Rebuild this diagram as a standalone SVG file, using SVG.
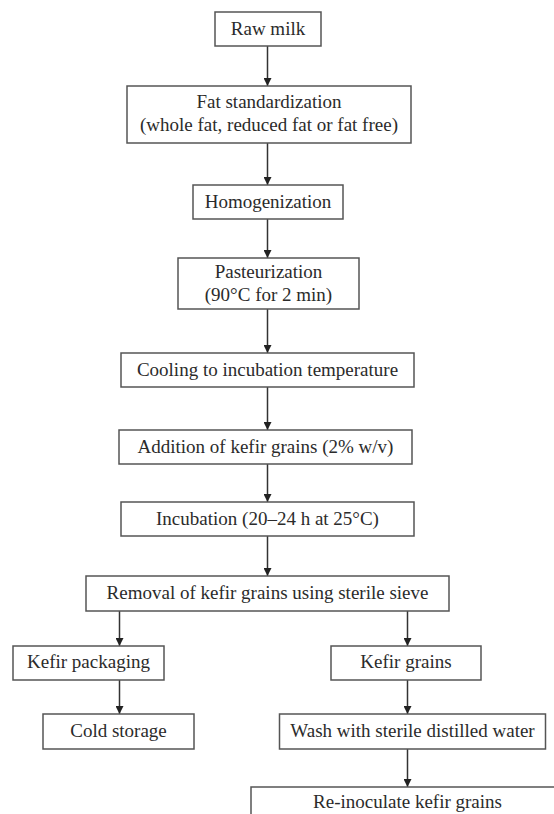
<svg xmlns="http://www.w3.org/2000/svg" width="554" height="814" viewBox="0 0 554 814">
<defs>
<marker id="ah" viewBox="0 0 10 10" refX="10" refY="5" markerWidth="8" markerHeight="8" markerUnits="userSpaceOnUse" orient="auto">
<path d="M0,0 L10,5 L0,10 z" fill="#222"/>
</marker>
<style>
.box{fill:#fff;stroke:#555;stroke-width:1.5}
.t{font-family:"Liberation Serif","Times New Roman",serif;font-size:19px;fill:#2b2b2b;text-anchor:middle}
.c{stroke:#333;stroke-width:1.5;fill:none;marker-end:url(#ah)}
</style>
</defs>
<rect width="554" height="814" fill="#fff"/>
<g id="connectors">
<line class="c" x1="267.5" y1="46" x2="267.5" y2="86"/>
<line class="c" x1="267.5" y1="143" x2="267.5" y2="185"/>
<line class="c" x1="267.5" y1="219" x2="267.5" y2="258"/>
<line class="c" x1="267.5" y1="309" x2="267.5" y2="353"/>
<line class="c" x1="267.5" y1="387" x2="267.5" y2="430"/>
<line class="c" x1="267.5" y1="464" x2="267.5" y2="502"/>
<line class="c" x1="267.5" y1="536" x2="267.5" y2="576"/>
<line class="c" x1="119.5" y1="611" x2="119.5" y2="646"/>
<line class="c" x1="407.5" y1="611" x2="407.5" y2="646"/>
<line class="c" x1="119.5" y1="680" x2="119.5" y2="714"/>
<line class="c" x1="407.5" y1="680" x2="407.5" y2="714"/>
<line class="c" x1="407.5" y1="749" x2="407.5" y2="787"/>
</g>
<g id="raw-milk"><rect class="box" x="215" y="12" width="106" height="34"/><text class="t" x="268" y="35">Raw milk</text></g>
<g id="fat-standardization"><rect class="box" x="127" y="86" width="284" height="57"/><text class="t" x="269" y="108">Fat standardization</text><text class="t" x="269" y="131">(whole fat, reduced fat or fat free)</text></g>
<g id="homogenization"><rect class="box" x="193" y="185" width="150" height="34"/><text class="t" x="268" y="208">Homogenization</text></g>
<g id="pasteurization"><rect class="box" x="178" y="258" width="181" height="51"/><text class="t" x="268.5" y="278">Pasteurization</text><text class="t" x="268.5" y="301">(90°C for 2 min)</text></g>
<g id="cooling"><rect class="box" x="121" y="353" width="293" height="34"/><text class="t" x="267.5" y="376">Cooling to incubation temperature</text></g>
<g id="addition"><rect class="box" x="119" y="430" width="293" height="34"/><text class="t" x="265.5" y="453">Addition of kefir grains (2% w/v)</text></g>
<g id="incubation"><rect class="box" x="121" y="502" width="293" height="34"/><text class="t" x="267.5" y="525">Incubation (20–24 h at 25°C)</text></g>
<g id="removal"><rect class="box" x="86" y="576" width="363" height="35"/><text class="t" x="267.5" y="599">Removal of kefir grains using sterile sieve</text></g>
<g id="kefir-packaging"><rect class="box" x="13" y="646" width="151" height="34"/><text class="t" x="88.5" y="668">Kefir packaging</text></g>
<g id="kefir-grains"><rect class="box" x="331" y="646" width="150" height="34"/><text class="t" x="406" y="668">Kefir grains</text></g>
<g id="cold-storage"><rect class="box" x="43" y="714" width="151" height="35"/><text class="t" x="118.5" y="737">Cold storage</text></g>
<g id="wash"><rect class="box" x="279.5" y="714" width="266" height="35"/><text class="t" x="412.5" y="737">Wash with sterile distilled water</text></g>
<g id="reinoculate"><rect class="box" x="251" y="787" width="313" height="40"/><text class="t" x="407.5" y="808">Re-inoculate kefir grains</text></g>
</svg>
